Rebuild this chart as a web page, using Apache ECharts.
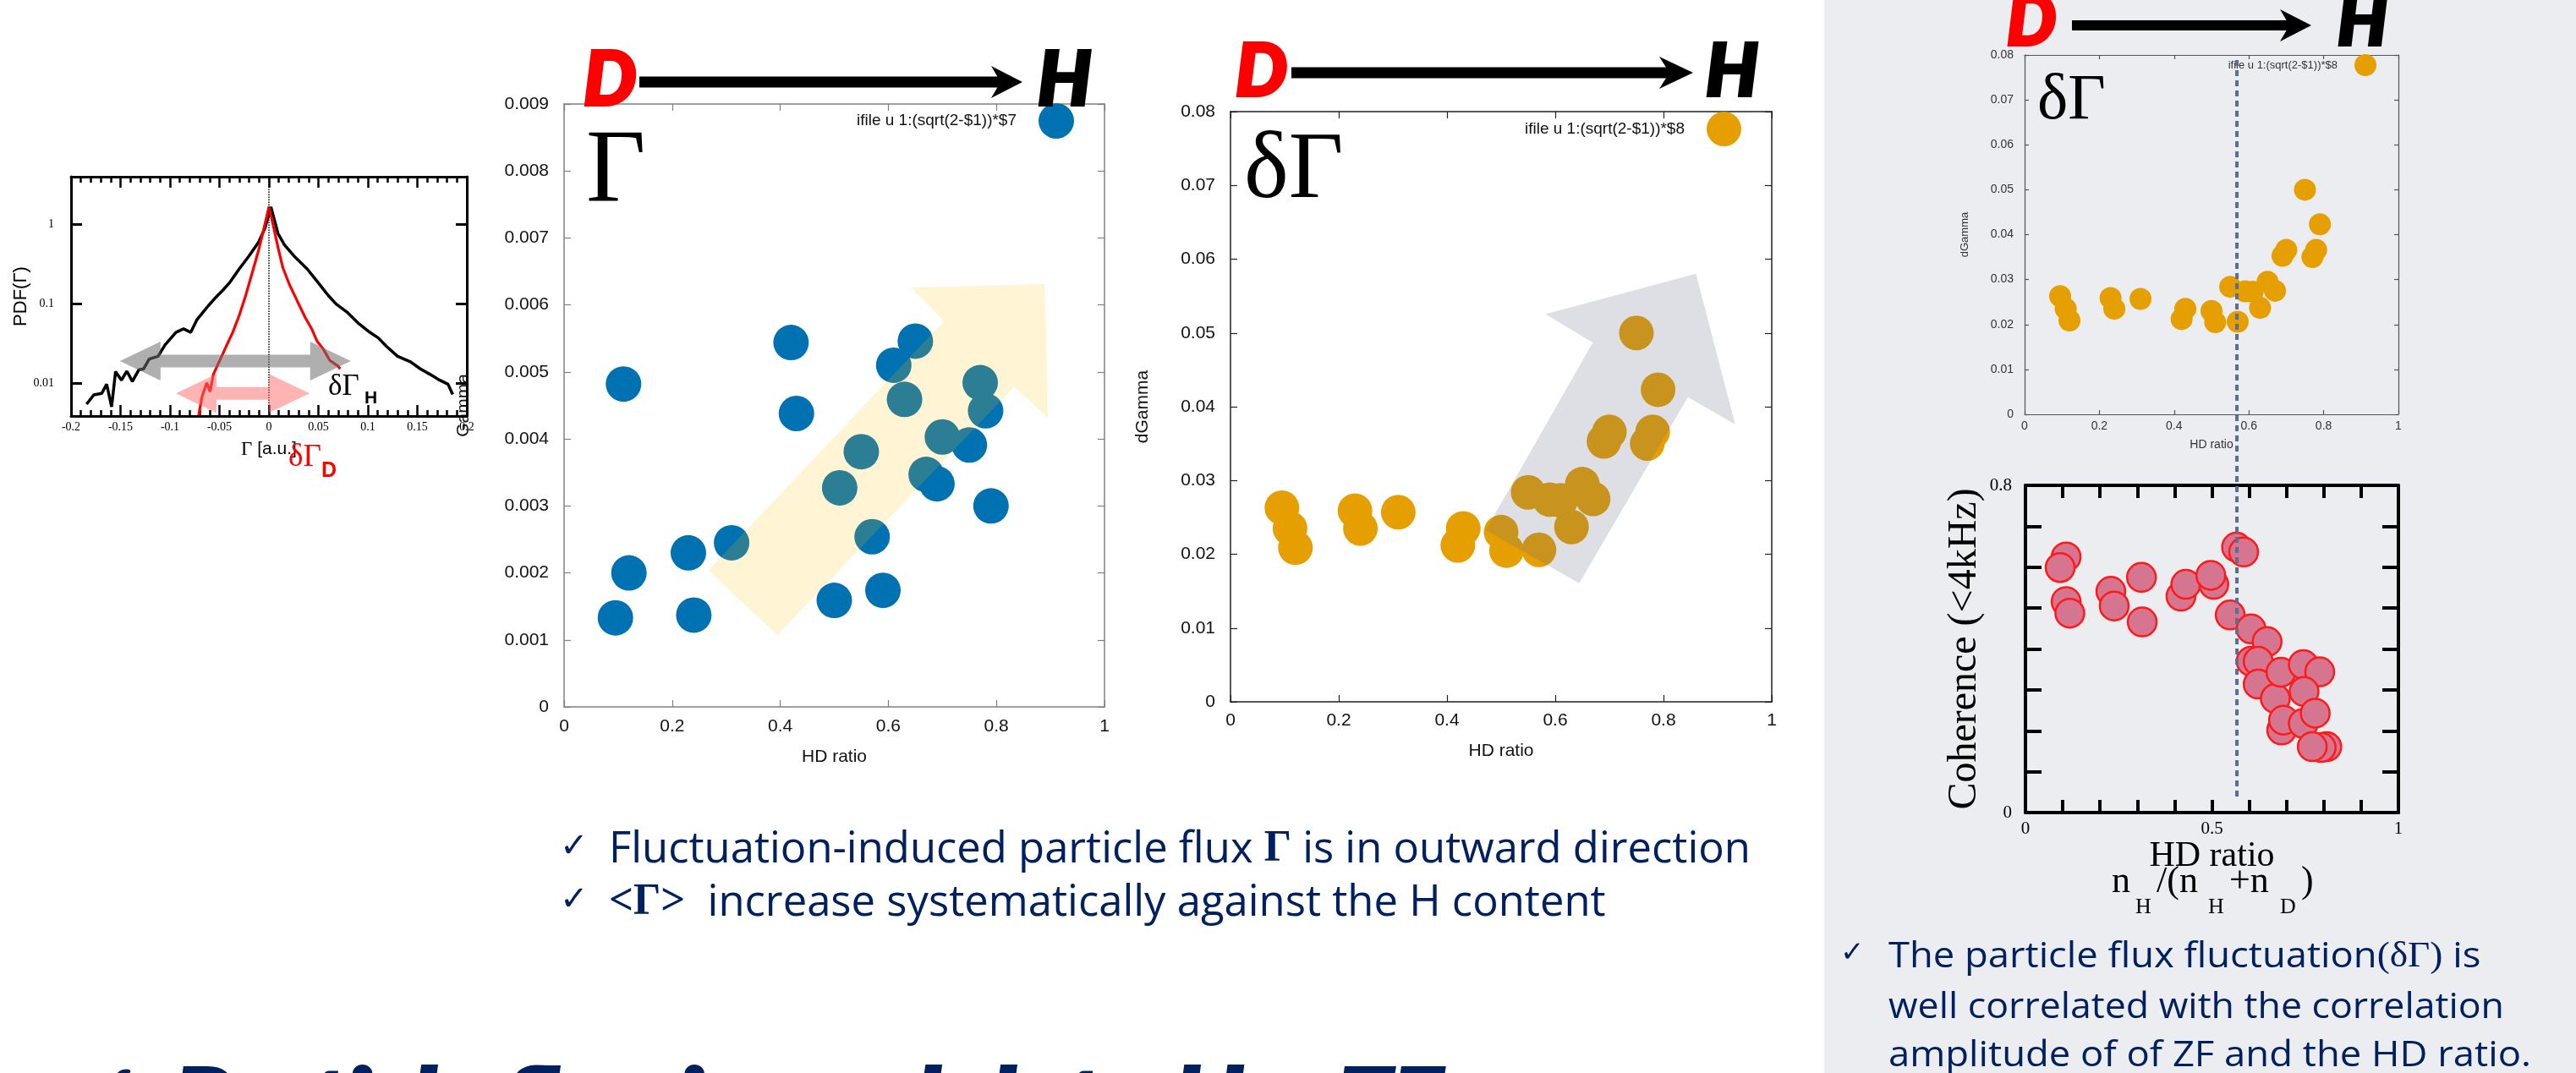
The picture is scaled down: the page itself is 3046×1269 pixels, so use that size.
<!DOCTYPE html>
<html>
<head>
<meta charset="utf-8">
<title>Particle flux vs HD ratio</title>
<script src="https://cdn.jsdelivr.net/npm/echarts@6.0.0/dist/echarts.min.js"></script>
<style>
html,body{margin:0;padding:0;background:#fff;overflow:hidden;}
#main{width:3046px;height:1269px;}
</style>
</head>
<body>
<div id="main"></div>
<script>
// ================= DATA =================
// HD ratio of each discharge (shared by the Gamma / dGamma panels)
const hdRatio   = [0.095,0.11,0.12,0.23,0.24,0.31,0.42,0.43,0.50,0.51,0.55,0.57,0.59,0.61,0.63,0.65,0.67,0.69,0.70,0.75,0.77,0.78,0.79];
// <Gamma>  (ifile u 1:(sqrt(2-$1))*$7)
const gammaFlux = [0.00133,0.00482,0.0020,0.0023,0.00137,0.00245,0.00544,0.00438,0.00159,0.00327,0.00381,0.00254,0.00174,0.00510,0.00459,0.00546,0.00347,0.00333,0.00403,0.00391,0.00484,0.00442,0.00300];
// dGamma   (ifile u 1:(sqrt(2-$1))*$8)
const dGamma    = [0.0263,0.0235,0.0209,0.0259,0.0235,0.0257,0.0212,0.0235,0.0230,0.0205,0.0284,0.0206,0.0274,0.0273,0.0237,0.0295,0.0275,0.0353,0.0366,0.0500,0.0350,0.0366,0.0423];
// Coherence (<4kHz) vs HD ratio
const cohHD     = [0.109,0.093,0.109,0.119,0.229,0.238,0.311,0.313,0.417,0.430,0.505,0.497,0.566,0.585,0.549,0.605,0.648,0.605,0.624,0.624,0.670,0.685,0.745,0.789,0.747,0.687,0.692,0.745,0.777,0.808,0.793,0.769];
const coherence = [0.625,0.599,0.516,0.4875,0.541,0.505,0.575,0.466,0.529,0.558,0.558,0.580,0.649,0.637,0.483,0.449,0.418,0.370,0.370,0.314,0.279,0.343,0.362,0.344,0.296,0.202,0.226,0.218,0.243,0.161,0.159,0.161];
// PDF(Gamma) — H plasma (black)
const pdfGammaH = [-0.1843,-0.177,-0.169,-0.164,-0.159,-0.155,-0.149,-0.1436,-0.138,-0.1315,-0.1266,-0.121,-0.112,-0.105,-0.094,-0.0863,-0.079,-0.0726,-0.061,-0.0546,-0.0464,-0.040,-0.030,-0.0203,-0.0105,-0.0039,0.002,0.0092,0.0157,0.0255,0.0386,0.050,0.060,0.068,0.0795,0.091,0.102,0.1105,0.1187,0.130,0.143,0.153,0.163,0.1727,0.181,0.1857];
const pdfValueH = [0.0055,0.0072,0.0075,0.0098,0.0051,0.0141,0.011,0.0143,0.0106,0.0149,0.0153,0.0203,0.022,0.0306,0.044,0.0487,0.044,0.064,0.096,0.118,0.150,0.184,0.277,0.40,0.60,0.906,1.67,0.77,0.556,0.40,0.277,0.184,0.128,0.1,0.078,0.0565,0.044,0.0375,0.0294,0.022,0.0188,0.0153,0.013,0.011,0.0098,0.0073];
// PDF(Gamma) — D plasma (red)
const pdfGammaD = [-0.071,-0.0677,-0.0628,-0.0595,-0.0562,-0.0497,-0.0432,-0.0366,-0.030,-0.0235,-0.017,-0.0105,-0.0056,0,0.0043,0.0092,0.014,0.0206,0.0288,0.037,0.0435,0.0484,0.055,0.0615,0.0697,0.072];
const pdfValueD = [0.0040,0.0068,0.0102,0.0079,0.013,0.0195,0.0294,0.044,0.072,0.128,0.245,0.472,0.836,1.67,0.98,0.512,0.289,0.177,0.108,0.0665,0.048,0.0346,0.0271,0.0195,0.0166,0.0153];
// HD ratio of the transition marker (dotted line, right panel)
const hdThreshold = 0.568;
// annotation arrows, in data coordinates of their panels
const gammaTrendArrow  = [[0.267,0.00204],[0.703,0.00576],[0.642,0.00626],[0.8895,0.00631],[0.8957,0.00431],[0.833,0.00478],[0.3946,0.00107]];
const dGammaTrendArrow = [[0.4716,0.02328],[0.6693,0.04868],[0.5821,0.05254],[0.8599,0.05801],[0.9323,0.03762],[0.8451,0.04129],[0.6444,0.01608]];
const pdfSpreadH = [-0.1506, 0.0827, 0.0192];   // [from, to, PDF level]
const pdfSpreadD = [-0.094, 0.041, 0.0075];

// ================= STYLE =================
const SANS  = "'Liberation Sans', Arial, sans-serif";
const SERIF = "'Liberation Serif', 'Times New Roman', serif";
const BODY  = "'Open Sans', 'Noto Sans', sans-serif";
const NAVY  = '#002060';
const NAME7 = 'ifile u 1:(sqrt(2-$1))*$7';
const NAME8 = 'ifile u 1:(sqrt(2-$1))*$8';

const chart = echarts.init(document.getElementById('main'), null, {renderer:'canvas', width:3046, height:1269});

function axes(dim, gi, base, main) {
  const pos = dim === 'x' ? ['bottom','top'] : ['left','right'];
  return [
    Object.assign({gridIndex:gi, position:pos[0]}, base, main),
    Object.assign({gridIndex:gi, position:pos[1]}, base, {axisLabel:{show:false}, name:''})
  ];
}
const gp = (c, w, tl) => ({
  splitLine:{show:false},
  axisLine:{onZero:false, lineStyle:{color:c, width:w}},
  axisTick:{inside:true, length:tl, lineStyle:{color:c, width:1.2}}
});
const lab = (size, fam, margin, color, extra) => Object.assign({margin, fontSize:size, fontFamily:fam, color:color||'#111', interval:0}, extra||{});
const near = (v, t) => Math.abs(v - t) < 1e-9;

const pdfX = {type:'value', min:-0.2, max:0.2, interval:0.05, splitLine:{show:false},
  axisLine:{onZero:false, lineStyle:{color:'#000', width:3}},
  axisTick:{inside:true, length:13, lineStyle:{color:'#000', width:2.5}},
  minorTick:{show:true, splitNumber:5, length:7, lineStyle:{color:'#000', width:2.5}}};
const pdfY = {type:'log', logBase:10, min:0.0039, max:4, splitLine:{show:false},
  axisLine:{onZero:false, lineStyle:{color:'#000', width:3}},
  axisTick:{inside:true, length:13, lineStyle:{color:'#000', width:3}}, minorTick:{show:false}};
const cohX = {type:'value', min:0, max:1, interval:0.1, splitLine:{show:false},
  axisLine:{onZero:false, lineStyle:{color:'#000', width:4}},
  axisTick:{inside:true, length:15, lineStyle:{color:'#000', width:4}}};
const cohY = {type:'value', min:0, max:0.8, interval:0.1, splitLine:{show:false},
  axisLine:{onZero:false, lineStyle:{color:'#000', width:4}},
  axisTick:{inside:true, length:19, lineStyle:{color:'#000', width:4}}};

const xAxis = [].concat(
  axes('x', 0, pdfX, {axisLabel:lab(14, SERIF, 6, '#000'), name:'{g|Γ} [a.u.]', nameLocation:'middle', nameGap:28,
    nameTextStyle:{fontSize:21, fontFamily:SANS, color:'#000', rich:{g:{fontSize:23, fontFamily:SERIF, color:'#000'}}}}),
  axes('x', 1, Object.assign({type:'value', min:0, max:1, interval:0.2}, gp('#808080', 1.5, 8)),
    {axisLabel:lab(21, SANS, 13), name:'HD ratio', nameLocation:'middle', nameGap:49, nameTextStyle:{fontSize:21, fontFamily:SANS, color:'#111'}}),
  axes('x', 2, Object.assign({type:'value', min:0, max:1, interval:0.2}, gp('#222', 1.5, 8)),
    {axisLabel:lab(21, SANS, 12), name:'HD ratio', nameLocation:'middle', nameGap:48, nameTextStyle:{fontSize:21, fontFamily:SANS, color:'#111'}}),
  axes('x', 3, Object.assign({type:'value', min:0, max:1, interval:0.2}, gp('#555', 1.2, 5)),
    {axisLabel:lab(14, SANS, 7, '#333'), name:'HD ratio', nameLocation:'middle', nameGap:29, nameTextStyle:{fontSize:14, fontFamily:SANS, color:'#333'}}),
  axes('x', 4, cohX, {axisLabel:lab(21, SERIF, 9, '#000', {formatter:v => near(v,0)?'0':near(v,0.5)?'0.5':near(v,1)?'1':''}),
    name:'HD ratio', nameLocation:'middle', nameGap:24, nameTextStyle:{fontSize:42, fontFamily:SERIF, color:'#000'}})
);
const yAxis = [].concat(
  axes('y', 0, pdfY, {axisLabel:lab(14, SERIF, 20, '#000', {formatter:v => {const l = Math.log10(v); return Math.abs(l - Math.round(l)) < 1e-3 ? String(+Math.pow(10, Math.round(l)).toPrecision(2)) : '';}}),
    name:'PDF(Γ)', nameLocation:'middle', nameRotate:90, nameGap:44, nameTextStyle:{fontSize:22, fontFamily:SANS, color:'#000'}}),
  axes('y', 1, Object.assign({type:'value', min:0, max:0.009, interval:0.001}, gp('#808080', 1.5, 8)),
    {axisLabel:lab(21, SANS, 18), name:'Gamma', nameLocation:'middle', nameRotate:90, nameGap:108, nameTextStyle:{fontSize:21, fontFamily:SANS, color:'#111'}}),
  axes('y', 2, Object.assign({type:'value', min:0, max:0.08, interval:0.01}, gp('#222', 1.5, 8)),
    {axisLabel:lab(21, SANS, 18), name:'dGamma', nameLocation:'middle', nameRotate:90, nameGap:93, nameTextStyle:{fontSize:21, fontFamily:SANS, color:'#111'}}),
  axes('y', 3, Object.assign({type:'value', min:0, max:0.08, interval:0.01}, gp('#555', 1.2, 5)),
    {axisLabel:lab(14, SANS, 13, '#333'), name:'dGamma', nameLocation:'middle', nameRotate:90, nameGap:64, nameTextStyle:{fontSize:13, fontFamily:SANS, color:'#333'}}),
  axes('y', 4, cohY, {axisLabel:lab(21, SERIF, 16, '#000', {formatter:v => near(v,0)?'0':near(v,0.8)?'0.8':''}),
    name:'Coherence (<4kHz)', nameLocation:'middle', nameRotate:90, nameGap:48, nameTextStyle:{fontSize:48, fontFamily:SERIF, color:'#000'}})
);

const pairs = (xs, ys) => xs.map((x, i) => [x, ys[i]]);
const legendBase = {orient:'horizontal', align:'right', padding:0, icon:'circle', selectedMode:false};

chart.setOption({
  animation:false,
  backgroundColor:'#ffffff',
  grid:[
    {left:84,   top:209, width:468, height:283},
    {left:667,  top:123, width:639, height:713},
    {left:1455, top:132, width:640, height:698},
    {left:2394, top:65,  width:442, height:425},
    {left:2395, top:574, width:441, height:387}
  ],
  xAxis, yAxis,
  legend:[
    Object.assign({}, legendBase, {data:[NAME7], right:1776, top:122, itemWidth:42, itemHeight:42,
      textStyle:{fontSize:19, fontFamily:SANS, color:'#111', padding:[0,21,0,0]}}),
    Object.assign({}, legendBase, {data:[NAME8], right:987, top:132, itemWidth:41, itemHeight:41,
      textStyle:{fontSize:19, fontFamily:SANS, color:'#111', padding:[0,21,0,0]}}),
    Object.assign({}, legendBase, {data:[NAME8], right:236, top:64, itemWidth:26, itemHeight:26,
      textStyle:{fontSize:13, fontFamily:SANS, color:'#333', padding:[0,15,0,0]}})
  ],
  series:[
    {type:'line', name:'H', xAxisIndex:0, yAxisIndex:0, data:pairs(pdfGammaH, pdfValueH), symbol:'none', silent:true, z:3,
      lineStyle:{color:'#000', width:3.5}, itemStyle:{color:'#000'},
      markLine:{silent:true, symbol:'none', label:{show:false}, lineStyle:{type:'dotted', color:'#000', width:1.5}, data:[{xAxis:0}]}},
    {type:'line', name:'D', xAxisIndex:0, yAxisIndex:0, data:pairs(pdfGammaD, pdfValueD), symbol:'none', silent:true, z:4,
      lineStyle:{color:'#FF0000', width:3.2}, itemStyle:{color:'#FF0000'}},
    {type:'scatter', name:NAME7, xAxisIndex:2, yAxisIndex:2, data:pairs(hdRatio, gammaFlux), symbolSize:42,
      itemStyle:{color:'#0072B2', opacity:1}},
    {type:'scatter', name:NAME8, xAxisIndex:4, yAxisIndex:4, data:pairs(hdRatio, dGamma), symbolSize:41,
      itemStyle:{color:'#E69F00', opacity:1}},
    {type:'scatter', name:NAME8, xAxisIndex:6, yAxisIndex:6, data:pairs(hdRatio, dGamma), symbolSize:26,
      itemStyle:{color:'#E69F00', opacity:1}},
    {type:'scatter', name:'Coherence', xAxisIndex:8, yAxisIndex:8, data:pairs(cohHD, coherence), symbolSize:34,
      itemStyle:{color:'#D5758F', borderColor:'#FF1A1A', borderWidth:2.5, opacity:1}}
  ]
});

// ================= ANNOTATIONS =================
const px = (xi, yi, p) => chart.convertToPixel({xAxisIndex:xi, yAxisIndex:yi}, p);
const mctx = document.createElement('canvas').getContext('2d');
const textW = (t, font) => { mctx.font = font; return mctx.measureText(t).width; };
function T(x, y, text, font, fill, extra) {
  return Object.assign({type:'text', x, y, z:30, silent:true,
    style:{text, font, fill, align:'left', verticalAlign:'middle', textAlign:'left', textVerticalAlign:'middle'}}, extra || {});
}
function heavy(el, w) { el.style.stroke = el.style.fill; el.style.lineWidth = w; return el; }
function fitT(x, y, text, plain, font, fill, target, rich) {
  const el = T(x, y, text, font, fill, {scaleX: target / textW(plain, font)});
  if (rich) el.style.rich = rich;
  return el;
}
function dblArrow(x1, x2, yc, st, hh, hl, fill) {
  const s = st / 2, h = hh / 2;
  return {type:'polygon', z:50, silent:true, style:{fill},
    shape:{points:[[x1,yc],[x1+hl,yc-h],[x1+hl,yc-s],[x2-hl,yc-s],[x2-hl,yc-h],[x2,yc],[x2-hl,yc+h],[x2-hl,yc+s],[x1+hl,yc+s],[x1+hl,yc+h]]}};
}
function header(dX, hX, cy, fs, ly, x1, tip, back, half, lw) {
  const f = `italic 900 ${fs}px Lato, 'Open Sans', sans-serif`;
  const len = tip - back;
  return [
    heavy(T(dX, cy, 'D', f, '#FF0000'), 4),
    {type:'line', z:30, silent:true, shape:{x1, y1:ly, x2:back + len * 0.4, y2:ly}, style:{stroke:'#000', lineWidth:lw}},
    {type:'polygon', z:30, silent:true, shape:{points:[[tip,ly],[back,ly-half],[back+len*0.3,ly],[back,ly+half]]}, style:{fill:'#000'}},
    heavy(T(hX, cy, 'H', f, '#000'), 4)
  ];
}

const G = [];
// right-hand grey panel
G.push({type:'rect', z:-10, silent:true, shape:{x:2157, y:0, width:889, height:1269}, style:{fill:'#ECEDF1'}});

// PDF panel spread arrows & labels
{
  const a = px(0, 0, [pdfSpreadH[0], pdfSpreadH[2]]), b = px(0, 0, [pdfSpreadH[1], pdfSpreadH[2]]);
  G.push(dblArrow(a[0], b[0], a[1], 15, 46, 48, 'rgba(110,110,110,0.55)'));
  const c = px(0, 0, [pdfSpreadD[0], pdfSpreadD[2]]), d = px(0, 0, [pdfSpreadD[1], pdfSpreadD[2]]);
  G.push(dblArrow(c[0], d[0], c[1], 15, 46, 48, 'rgba(255,105,105,0.5)'));
}
G.push(T(388, 458, 'δΓ', `35px ${SERIF}`, '#000'));
G.push(T(431, 471, 'H', `bold 21px ${SANS}`, '#000'));
G.push(T(341, 541, 'δΓ', `37px ${SERIF}`, '#FF0000'));
G.push(T(380, 557, 'D', `bold 25px ${SANS}`, '#FF0000'));

// Gamma panel
G.push(...header(690, 1227, 96, 88, 97, 756, 1209, 1172, 19, 13));
G.push(T(693, 205, 'Γ', `122px ${SERIF}`, '#000'));
G.push({type:'polygon', z:50, silent:true, shape:{points:gammaTrendArrow.map(p => px(2, 2, p))}, style:{fill:'rgba(255,192,0,0.17)'}});

// dGamma panel
G.push(...header(1461, 2017, 85, 86, 86, 1527, 2002, 1962, 19, 13));
G.push(T(1471, 204, 'δΓ', `112px ${SERIF}`, '#000'));
G.push({type:'polygon', z:50, silent:true, shape:{points:dGammaTrendArrow.map(p => px(4, 4, p))}, style:{fill:'rgba(100,110,135,0.22)'}});

// small dGamma panel
G.push(...header(2373, 2764, 27, 82, 30, 2450, 2733, 2696, 19, 12));
G.push(T(2409, 120, 'δΓ', `77px ${SERIF}`, '#000'));
{
  const xt = px(6, 6, [hdThreshold, 0])[0];
  G.push({type:'line', z:40, silent:true, shape:{x1:xt, y1:71, x2:xt, y2:942}, style:{stroke:'#5A6E94', lineWidth:4, lineDash:[7,5]}});
}
// n_H/(n_H+n_D)
{
  const mf = `44px ${SERIF}`, sf = `26px ${SERIF}`;
  G.push(T(2497, 1043, 'n', mf, '#000'), T(2525, 1073, 'H', sf, '#000'),
         T(2550, 1043, '/(n', mf, '#000'), T(2611, 1073, 'H', sf, '#000'),
         T(2636, 1043, '+n', mf, '#000'), T(2696, 1073, 'D', sf, '#000'),
         T(2721, 1043, ')', mf, '#000'));
}

// middle bullet text
{
  const f = `52px ${BODY}`;
  const rich = {g:{font:`bold 52px ${SERIF}`, fill:NAVY}};
  G.push(T(662, 1003, '✓', `40px 'DejaVu Sans', sans-serif`, NAVY));
  G.push(T(662, 1066, '✓', `40px 'DejaVu Sans', sans-serif`, NAVY));
  G.push(fitT(720, 1005, 'Fluctuation-induced particle flux {g|Γ} is in outward direction',
    'Fluctuation-induced particle flux Γ is in outward direction', f, NAVY, 1344, rich));
  G.push(fitT(720, 1068, '{g|<Γ>}  increase systematically against the H content',
    '<Γ>  increase systematically against the H content', f, NAVY, 1173, rich));
}
// right bullet text
{
  const f = `42px ${BODY}`;
  G.push(T(2176, 1128, '✓', `34px 'DejaVu Sans', sans-serif`, NAVY));
  G.push(fitT(2233, 1132, 'The particle flux fluctuation{g|(δΓ)} is', 'The particle flux fluctuation(δΓ) is', f, NAVY, 700,
    {g:{font:`42px ${SERIF}`, fill:NAVY}}));
  G.push(fitT(2233, 1192, 'well correlated with the correlation', 'well correlated with the correlation', f, NAVY, 728));
  G.push(fitT(2233, 1249, 'amplitude of of ZF and the HD ratio.', 'amplitude of of ZF and the HD ratio.', f, NAVY, 760));
}
// bottom headline (cut by the page edge)
{
  const f = `italic 900 100px Lato, 'Open Sans', sans-serif`;
  G.push(heavy(T(86, 1303, '✓', `bold 100px 'DejaVu Sans', sans-serif`, NAVY), 3));
  G.push(heavy(fitT(205, 1303, 'Particle flux is modulated by ZF', 'Particle flux is modulated by ZF', f, NAVY, 1500), 4));
}

chart.setOption({graphic:{elements:G}});
</script>
</body>
</html>
